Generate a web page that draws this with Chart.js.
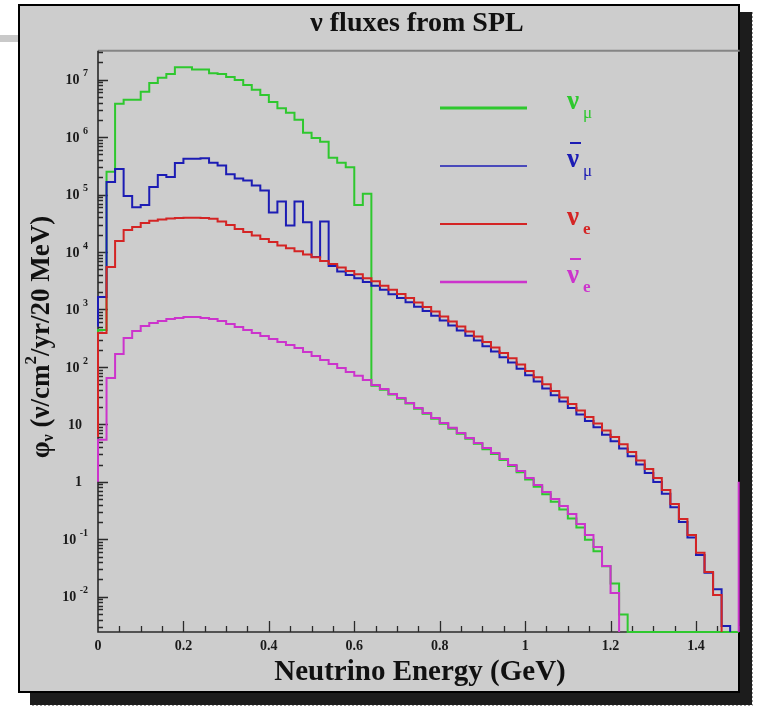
<!DOCTYPE html>
<html>
<head>
<meta charset="utf-8">
<script src="https://cdn.jsdelivr.net/npm/chart.js@4.4.1/dist/chart.umd.min.js"></script>
<style>
  html, body { margin: 0; padding: 0; background: #fff; }
  #wrap { width: 757px; height: 707px; }
</style>
</head>
<body>
<div id="wrap"><canvas id="flux" width="757" height="707"></canvas></div>
<script>
// 20 MeV bins from 0 to 1.5 GeV
const BIN_WIDTH = 0.02;
const E_MAX = 1.5;
const Y_MIN = 0.00243;
const Y_MAX = 3.2e7;

const xTicks = [0, 0.2, 0.4, 0.6, 0.8, 1, 1.2, 1.4];
const xTickLabels = ['0', '0.2', '0.4', '0.6', '0.8', '1', '1.2', '1.4'];
const yDecades = [-2, -1, 0, 1, 2, 3, 4, 5, 6, 7];

// flux per bin (nu/cm2/yr/20 MeV), 0 = empty bin
const numu = [
  440, 2.5e5, 3.8e6, 4.5e6, 4.5e6, 6.2e6, 8.8e6, 1.08e7, 1.26e7, 1.65e7,
  1.65e7, 1.5e7, 1.5e7, 1.3e7, 1.26e7, 1.12e7, 9.9e6, 8.1e6, 6.7e6, 5.4e6,
  4.1e6, 3.2e6, 2.65e6, 2.0e6, 1.19e6, 9.7e5, 8.3e5, 4.4e5, 3.6e5, 3.0e5,
  6.6e4, 1.03e5, 47, 40, 33, 28, 23, 18.8, 15.3, 12.5,
  10.3, 8.4, 6.9, 5.6, 4.6, 3.7, 3.05, 2.4, 1.88, 1.47,
  1.1, 0.82, 0.61, 0.45, 0.33, 0.23, 0.16, 0.098, 0.062, 0.034,
  0.017, 0.0049, 0, 0, 0, 0, 0, 0, 0, 0,
  0, 0, 0, 0, 0
];
const numubar = [
  1650, 1.66e5, 2.8e5, 9.5e4, 6.0e4, 6.6e4, 1.36e5, 2.2e5, 2.03e5, 3.56e5,
  4.2e5, 4.2e5, 4.3e5, 3.6e5, 3.2e5, 2.25e5, 1.9e5, 1.76e5, 1.44e5, 1.18e5,
  4.9e4, 7.6e4, 2.9e4, 7.6e4, 3.3e4, 8.2e3, 3.4e4, 5.7e3, 4.6e3, 4.0e3,
  3.5e3, 3.0e3, 2.6e3, 2.2e3, 1.85e3, 1.58e3, 1.34e3, 1.12e3, 940, 780,
  640, 525, 430, 350, 288, 230, 185, 148, 119, 93,
  72, 56, 42, 32, 25, 19.2, 14.9, 11.4, 8.9, 6.6,
  5.1, 3.8, 2.8, 2.0, 1.42, 0.99, 0.62, 0.36, 0.2, 0.107,
  0.053, 0.026, 0.0135, 0.0031, 0
];
const nue = [
  391, 5500, 1.56e4, 2.43e4, 2.74e4, 3.2e4, 3.5e4, 3.7e4, 3.85e4, 3.9e4,
  3.95e4, 3.95e4, 3.9e4, 3.78e4, 3.41e4, 2.96e4, 2.53e4, 2.24e4, 1.95e4, 1.69e4,
  1.5e4, 1.3e4, 1.16e4, 1.03e4, 9100, 8100, 7000, 6200, 5400, 4700,
  4100, 3500, 3100, 2600, 2200, 1870, 1590, 1330, 1110, 925,
  757, 620, 507, 415, 340, 272, 218, 175, 141, 110,
  85, 66, 50, 38, 29.4, 22.6, 17.5, 13.4, 10.4, 7.8,
  6.0, 4.5, 3.3, 2.35, 1.67, 1.17, 0.72, 0.41, 0.225, 0.119,
  0.058, 0.027, 0.0107, 0, 0
];
const nuebar = [
  5.4, 64, 168, 320, 424, 517, 583, 632, 685, 713,
  741, 741, 713, 685, 632, 561, 497, 441, 391, 347,
  307, 272, 241, 214, 182, 155, 132, 113, 96, 82,
  70, 59, 48.5, 41.4, 33.9, 28.8, 23.6, 19.3, 15.8, 12.9,
  10.6, 8.7, 7.1, 5.8, 4.74, 3.88, 3.18, 2.5, 1.96, 1.55,
  1.17, 0.88, 0.665, 0.502, 0.379, 0.275, 0.185, 0.119, 0.073, 0.0343,
  0.0116, 0, 0, 0, 0, 0, 0, 0, 0, 0,
  0, 0, 0, 0, 0
];

// where each outline starts at E = 0, and what it does past its last filled bin
const startValues = [330, 500, 6, 1];
const runsAlongAxis = [true, false, false, false];
const edgeValues = [null, null, null, 1];
const seriesColors = ['#2ec82e', '#1c1cb4', '#d42424', '#cc33cc'];
const legendWidths = [3, 1.5, 1.8, 2.5];
const legendSub = ['\u03bc', '\u03bc', 'e', 'e'];
const legendBar = [false, true, false, true];

// outline of a histogram as stepped points on the bin low edges
function histPoints(bins, start, alongAxis, edge) {
  const pts = [{ x: 0, y: start }];
  let last = bins.length - 1;
  while (last > 0 && !(bins[last] > 0)) last--;
  for (let i = 0; i <= last; i++) {
    pts.push({ x: +(i * BIN_WIDTH).toFixed(2), y: bins[i] > 0 ? bins[i] : Y_MIN });
  }
  const endX = +((last + 1) * BIN_WIDTH).toFixed(2);
  pts.push({ x: endX, y: Y_MIN });
  if (alongAxis) {
    pts.push({ x: E_MAX, y: Y_MIN });
  } else {
    pts.push({ x: endX, y: null });
  }
  if (edge) {
    pts.push({ x: E_MAX, y: Y_MIN });
    pts.push({ x: E_MAX, y: edge });
  }
  return pts;
}

const serif = '"Liberation Serif", "DejaVu Serif", serif';

function drawRuns(ctx, runs, x, y, align) {
  let total = 0;
  runs.forEach(r => { ctx.font = r.font; total += ctx.measureText(r.text).width; });
  let cx = align === 'center' ? x - total / 2 : (align === 'right' ? x - total : x);
  runs.forEach(r => {
    ctx.font = r.font;
    ctx.fillText(r.text, cx, y + (r.dy || 0));
    cx += ctx.measureText(r.text).width;
  });
}

const decor = {
  id: 'decor',
  beforeDraw(chart) {
    const ctx = chart.ctx;
    ctx.save();
    ctx.fillStyle = '#ffffff';
    ctx.fillRect(0, 0, chart.width, chart.height);
    ctx.fillStyle = '#c9c9c9';
    ctx.fillRect(0, 35, 18, 7);
    // drop shadow
    ctx.fillStyle = '#1c1c1c';
    ctx.fillRect(740, 12, 12, 693);
    ctx.fillRect(30, 693, 722, 12);
    ctx.strokeStyle = '#9a9a9a';
    ctx.lineWidth = 1;
    ctx.setLineDash([2, 2]);
    ctx.beginPath();
    ctx.moveTo(752.5, 12); ctx.lineTo(752.5, 705.5); ctx.lineTo(30, 705.5);
    ctx.stroke();
    ctx.setLineDash([]);
    // canvas panel
    ctx.fillStyle = '#cdcdcd';
    ctx.fillRect(18, 4, 722, 689);
    ctx.strokeStyle = '#000';
    ctx.lineWidth = 2;
    ctx.strokeRect(19, 5, 720, 687);
    ctx.restore();
  },
  beforeDatasetsDraw(chart) {
    const ctx = chart.ctx;
    const xs = chart.scales.x, ys = chart.scales.y;
    const area = chart.chartArea;
    ctx.save();

    // frame
    ctx.strokeStyle = '#858585';
    ctx.lineWidth = 2;
    ctx.beginPath();
    ctx.moveTo(area.left, area.top); ctx.lineTo(area.right + 1, area.top);
    ctx.stroke();
    ctx.strokeStyle = '#2a2a2a';
    ctx.lineWidth = 1.6;
    ctx.beginPath();
    ctx.moveTo(area.left, area.top); ctx.lineTo(area.left, area.bottom); ctx.lineTo(area.right, area.bottom);
    ctx.stroke();

    // y ticks, decades and 2..9 subdivisions
    ctx.lineWidth = 1.3;
    ctx.beginPath();
    for (let d = yDecades[0] - 1; d <= yDecades[yDecades.length - 1]; d++) {
      for (let k = 1; k <= 9; k++) {
        const v = k * Math.pow(10, d);
        if (v < Y_MIN || v > Y_MAX) continue;
        const py = Math.round(ys.getPixelForValue(v)) + 0.5;
        const len = k === 1 ? 10 : 5;
        ctx.moveTo(area.left, py); ctx.lineTo(area.left + len, py);
      }
    }
    // x ticks
    for (let i = 1; i * 0.05 <= E_MAX + 1e-9; i++) {
      const px = Math.round(xs.getPixelForValue(i * 0.05)) + 0.5;
      const len = i % 4 === 0 ? 11 : 6;
      ctx.moveTo(px, area.bottom); ctx.lineTo(px, area.bottom - len);
    }
    ctx.stroke();

    // tick labels
    ctx.fillStyle = '#1a1a1a';
    ctx.textBaseline = 'middle';
    ctx.textAlign = 'left';
    yDecades.forEach(d => {
      const py = ys.getPixelForValue(Math.pow(10, d));
      if (d === 0 || d === 1) {
        drawRuns(ctx, [{ text: d === 0 ? '1' : '10', font: 'bold 14px ' + serif }], 82, py + 1, 'right');
      } else {
        drawRuns(ctx, [
          { text: '10 ', font: 'bold 14px ' + serif },
          { text: String(d), font: 'bold 10px ' + serif, dy: -7 }
        ], 88, py + 1, 'right');
      }
    });
    ctx.textAlign = 'center';
    ctx.font = 'bold 14px ' + serif;
    xTicks.forEach((t, i) => {
      ctx.fillText(xTickLabels[i], xs.getPixelForValue(t), area.bottom + 14);
    });

    // titles
    ctx.fillStyle = '#111';
    ctx.textAlign = 'left';
    drawRuns(ctx, [{ text: '\u03bd fluxes from SPL', font: 'bold 28px ' + serif }], 417, 24, 'center');
    drawRuns(ctx, [{ text: 'Neutrino Energy (GeV)', font: 'bold 29px ' + serif }], 420, 673, 'center');
    ctx.save();
    ctx.translate(42, 337);
    ctx.rotate(-Math.PI / 2);
    drawRuns(ctx, [
      { text: '\u03c6', font: 'bold 27px ' + serif },
      { text: '\u03bd', font: 'bold 16px ' + serif, dy: 7 },
      { text: ' (\u03bd/cm', font: 'bold 27px ' + serif },
      { text: '2', font: 'bold 17px ' + serif, dy: -10 },
      { text: '/yr/20 MeV)', font: 'bold 27px ' + serif }
    ], 0, 0, 'center');
    ctx.restore();

    // legend
    ctx.textBaseline = 'alphabetic';
    seriesColors.forEach((c, i) => {
      const ly = 108 + i * 58;
      ctx.strokeStyle = c;
      ctx.lineWidth = legendWidths[i];
      ctx.beginPath();
      ctx.moveTo(440, ly); ctx.lineTo(527, ly);
      ctx.stroke();
      ctx.fillStyle = c;
      ctx.font = 'bold 27px ' + serif;
      ctx.fillText('\u03bd', 567, ly + 1);
      ctx.font = (legendSub[i] === 'e' ? 'bold ' : '') + '17px ' + serif;
      ctx.fillText(legendSub[i], 583, ly + 10);
      if (legendBar[i]) ctx.fillRect(570, ly - 24, 11, 2);
    });

    ctx.restore();
  }
};

const datasets = [numu, numubar, nue, nuebar].map((bins, i) => ({
  label: ['numu', 'numubar', 'nue', 'nuebar'][i],
  data: histPoints(bins, startValues[i], runsAlongAxis[i], edgeValues[i]),
  borderColor: seriesColors[i],
  borderWidth: 2,
  pointRadius: 0,
  stepped: true,
  spanGaps: false,
  fill: false,
  clip: false,
  order: 3 - i
}));

new Chart(document.getElementById('flux'), {
  type: 'line',
  data: { datasets },
  options: {
    responsive: false,
    animation: false,
    events: [],
    layout: { padding: { left: 98, right: 18.3, top: 50.7, bottom: 75 } },
    plugins: { legend: { display: false }, tooltip: { enabled: false } },
    scales: {
      x: { type: 'linear', min: 0, max: E_MAX, display: false },
      y: { type: 'logarithmic', min: Y_MIN, max: Y_MAX, display: false }
    }
  },
  plugins: [decor]
});
</script>
</body>
</html>
